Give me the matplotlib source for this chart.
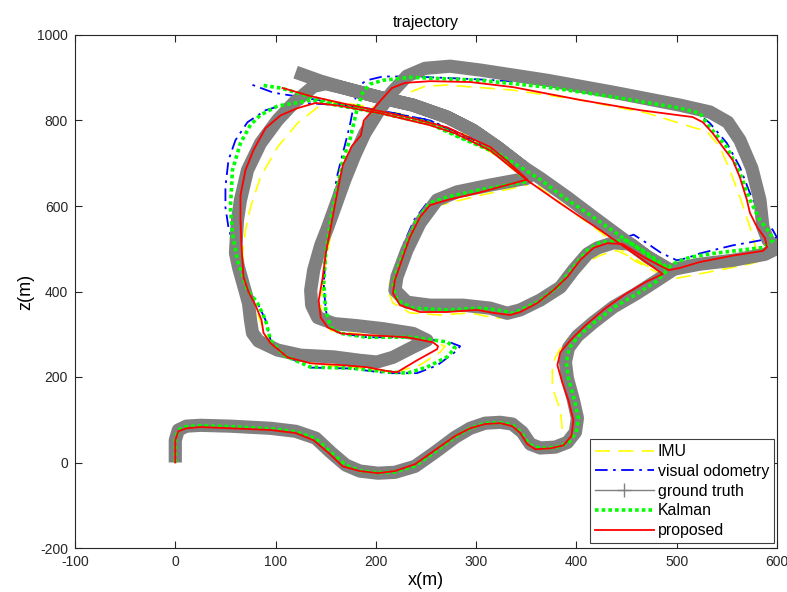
import numpy as np
import matplotlib
matplotlib.use("Agg")
import matplotlib.pyplot as plt
from matplotlib.lines import Line2D

plt.rcParams['font.family'] = ['Liberation Sans', 'DejaVu Sans']
plt.rcParams['axes.unicode_minus'] = False

# ---- trajectories (x, z) in metres ----
ground_truth = np.array([
    (0, 0), (0, 52), (3, 76), (11, 85), (25, 87), (55, 85), (95, 80), (120, 73), (140, 57),
    (155, 24), (170, -6), (184, -20), (202, -25), (219, -23), (239, -9), (259, 24), (279, 59),
    (294, 80), (309, 92), (324, 94), (336, 90), (346, 71), (354, 43), (364, 34), (379, 36),
    (391, 47), (399, 71), (401, 104), (397, 146), (391, 197), (389, 235), (392, 268), (401, 296),
    (417, 328), (437, 364), (459, 394), (479, 424), (494, 447),
    (471, 481), (444, 527), (417, 574), (391, 620), (364, 665), (347, 691), (321, 738),
    (297, 777), (271, 808), (237, 836), (204, 854), (170, 875), (150, 886),
    (138, 880), (118, 841), (102, 801), (85, 747), (72, 684), (65, 614), (62, 567), (60, 490),
    (63, 457), (68, 415), (73, 373), (75, 333), (77, 303), (83, 284), (102, 263), (125, 251),
    (158, 247), (184, 239), (201, 235), (217, 246), (237, 270), (251, 286), (237, 302),
    (207, 313), (181, 320), (158, 325), (142, 339), (136, 368), (135, 403), (138, 450),
    (145, 508), (152, 550), (160, 602), (169, 661), (179, 719), (189, 770), (202, 819),
    (216, 866), (231, 904), (249, 922), (274, 927), (304, 918), (371, 894), (437, 866),
    (503, 836), (533, 820), (551, 796), (563, 754), (575, 688), (583, 614), (586, 550),
    (591, 520), (600, 501), (588, 487), (556, 473), (523, 464), (503, 455), (494, 450),
    (471, 481), (454, 511), (437, 514), (421, 502), (411, 488), (397, 450), (384, 410),
    (364, 380), (344, 357), (331, 349), (314, 361), (287, 368), (254, 368), (231, 375),
    (219, 403), (221, 434), (231, 497), (244, 560), (261, 614), (281, 633), (314, 649),
    (351, 665), (347, 691), (321, 738), (297, 777), (271, 808), (237, 836), (204, 854),
    (170, 875), (145, 892), (120, 913),
])

imu = np.array([
    (0, 0), (0, 52), (3, 77), (11, 85), (25, 86), (55, 84), (95, 79), (120, 72), (140, 57),
    (158, 25), (172, -4), (186, -18), (204, -23), (221, -20), (241, -5), (261, 28), (281, 62),
    (296, 80), (311, 91), (326, 93), (340, 88), (348, 66), (352, 45), (362, 36), (378, 38),
    (386, 55), (386, 75), (384, 122), (376, 175), (376, 222), (379, 246), (387, 279),
    (404, 317), (425, 355), (447, 388), (468, 418), (486, 438),
    (457, 473), (424, 539), (367, 637), (337, 699), (287, 770), (237, 807), (204, 829),
    (170, 840), (155, 845), (142, 831), (122, 794), (102, 738), (85, 668), (75, 597),
    (70, 543), (67, 489), (70, 438), (75, 391), (81, 356), (88, 309), (97, 274), (115, 244),
    (145, 228), (184, 221), (219, 211), (244, 228), (264, 258), (269, 272), (254, 286),
    (224, 295), (184, 300), (155, 309), (147, 333), (145, 379), (148, 433), (152, 497),
    (158, 567), (164, 637), (172, 695), (182, 747), (194, 789), (209, 824), (221, 843),
    (234, 866), (249, 880), (271, 883), (337, 871), (404, 848), (471, 817), (516, 784),
    (530, 775), (543, 738), (553, 684), (563, 621), (573, 551), (580, 492), (583, 473),
    (576, 466), (540, 449), (500, 431), (491, 427), (474, 455), (457, 478), (440, 496),
    (424, 485), (411, 469), (394, 427), (379, 392), (361, 364), (339, 340), (319, 338),
    (294, 350), (264, 345), (234, 350), (217, 373), (212, 403), (216, 438), (224, 485),
    (234, 537), (247, 583), (264, 602), (304, 625), (351, 649), (344, 670), (324, 712),
    (287, 766), (237, 805), (204, 824), (170, 838), (150, 847),
])

visual_odometry = np.array([
    (0, 0), (0, 52), (3, 77), (11, 85), (25, 86), (55, 84), (95, 79), (120, 72), (140, 56),
    (155, 23), (170, -7), (184, -20), (202, -24), (219, -22), (239, -8), (259, 25), (279, 60),
    (294, 81), (309, 92), (324, 93), (336, 88), (345, 70), (353, 42), (364, 33), (379, 35),
    (392, 46), (400, 71), (402, 104), (398, 146), (392, 197), (390, 235), (393, 268),
    (402, 296), (418, 328), (438, 364), (460, 394), (480, 424), (492, 445),
    (469, 492), (444, 533), (424, 565), (399, 610), (374, 652), (344, 700), (314, 740),
    (284, 770), (254, 800), (204, 823), (165, 836), (135, 840), (110, 838), (90, 824),
    (72, 796), (60, 754), (53, 707), (50, 644), (50, 597), (53, 550), (58, 508), (62, 468),
    (72, 403), (82, 373), (90, 333), (95, 286), (108, 251), (135, 222), (174, 220),
    (211, 209), (241, 209), (261, 227), (281, 262), (284, 272), (274, 281), (237, 293),
    (191, 293), (165, 302), (155, 316), (150, 356), (148, 419), (150, 489), (155, 567),
    (161, 667), (167, 723), (174, 788), (179, 847), (184, 883), (191, 894), (207, 903),
    (237, 903), (304, 896), (371, 887), (437, 864), (516, 825), (533, 794), (550, 747),
    (563, 691), (573, 630), (583, 583), (596, 543), (600, 526), (593, 524), (573, 515),
    (556, 508), (523, 489), (510, 478), (500, 473), (484, 491), (469, 515), (457, 533),
    (444, 522), (424, 515), (411, 497), (397, 457), (381, 410), (361, 375), (337, 349),
    (321, 357), (304, 361), (271, 357), (237, 361), (221, 380), (217, 410), (219, 450),
    (228, 513), (238, 567), (252, 610), (271, 623), (304, 640), (351, 660), (334, 700),
    (314, 735), (284, 766), (254, 800), (204, 824), (165, 838), (130, 853), (98, 865),
    (75, 885),
])

kalman = np.array([
    (0, 0), (0, 52), (3, 77), (11, 84), (25, 86), (55, 84), (95, 79), (120, 72), (140, 56),
    (155, 24), (170, -6), (184, -19), (202, -24), (219, -22), (239, -8), (259, 25), (279, 60),
    (294, 80), (309, 92), (324, 93), (336, 88), (345, 70), (353, 42), (364, 33), (379, 35),
    (392, 46), (400, 71), (402, 104), (398, 146), (392, 197), (390, 235), (393, 268),
    (402, 296), (418, 328), (438, 364), (460, 394), (480, 424), (491, 450),
    (464, 497), (424, 562), (384, 626), (364, 662), (324, 720), (284, 760), (254, 792),
    (204, 818), (165, 834), (135, 848), (125, 843), (102, 834), (85, 813), (75, 790),
    (65, 747), (57, 684), (55, 597), (57, 536), (62, 473), (72, 403), (82, 373), (90, 333),
    (95, 286), (108, 251), (135, 223), (174, 221), (211, 212), (231, 209), (251, 223),
    (271, 247), (279, 268), (271, 282), (237, 293), (191, 293), (165, 302), (155, 316),
    (150, 356), (148, 419), (150, 489), (155, 567), (163, 660), (167, 707), (174, 754),
    (181, 824), (187, 866), (194, 885), (207, 894), (234, 901), (304, 894), (371, 878),
    (437, 855), (503, 829), (523, 817), (533, 784), (550, 738), (563, 677), (573, 614),
    (583, 567), (593, 537), (596, 520), (586, 503), (536, 489), (513, 480), (500, 469),
    (491, 455), (469, 492), (449, 520), (424, 515), (411, 497), (397, 457), (381, 410),
    (361, 375), (337, 349), (321, 357), (304, 361), (271, 357), (237, 361), (221, 380),
    (217, 410), (221, 450), (231, 513), (241, 567), (254, 607), (271, 621), (304, 638),
    (351, 657), (334, 697), (314, 732), (284, 762), (254, 795), (204, 820), (165, 838),
    (135, 855), (105, 876), (85, 883),
])

proposed = np.array([
    (0, 0), (0, 52), (3, 73), (11, 80), (25, 83), (55, 80), (95, 76), (120, 69), (138, 52),
    (153, 22), (167, -9), (184, -20), (202, -25), (219, -20), (239, -4), (259, 29), (279, 62),
    (294, 80), (309, 90), (324, 92), (336, 85), (344, 69), (351, 43), (359, 31), (374, 33),
    (387, 40), (395, 62), (397, 99), (392, 146), (386, 186), (381, 228), (384, 258),
    (394, 286), (409, 321), (429, 361), (449, 394), (469, 422), (486, 441),
    (464, 478), (424, 543), (384, 606), (351, 660), (314, 730), (279, 770), (254, 789),
    (204, 817), (165, 834), (140, 841), (122, 829), (105, 812), (90, 782), (78, 731),
    (70, 684), (65, 625), (65, 567), (66, 508), (68, 434), (73, 399), (80, 368), (86, 333),
    (88, 303), (95, 279), (112, 246), (135, 232), (165, 228), (191, 223), (211, 214),
    (221, 211), (241, 239), (261, 265), (262, 272), (257, 281), (231, 293), (191, 298),
    (165, 302), (152, 316), (145, 339), (143, 379), (147, 433), (150, 489), (155, 550),
    (162, 637), (167, 695), (176, 740), (185, 765), (188, 800), (196, 822), (206, 850),
    (216, 876), (229, 888), (254, 892), (294, 890), (337, 878), (404, 848), (464, 824),
    (516, 808), (526, 796), (536, 770), (546, 738), (556, 707), (563, 667), (570, 614),
    (573, 584), (580, 551), (588, 525), (590, 504), (586, 495), (556, 484), (523, 469),
    (503, 455), (492, 450), (469, 478), (446, 511), (431, 513), (417, 502), (404, 474),
    (391, 434), (377, 403), (361, 373), (344, 352), (334, 345), (317, 350), (301, 357),
    (271, 352), (244, 352), (224, 368), (217, 396), (219, 427), (227, 481), (234, 527),
    (244, 574), (254, 602), (271, 614), (304, 632), (351, 662), (331, 705), (314, 738),
    (271, 784), (237, 805), (204, 822), (167, 840), (135, 857), (107, 876),
])

x_ticks = [-100, 0, 100, 200, 300, 400, 500, 600]
z_ticks = [-200, 0, 200, 400, 600, 800, 1000]

# ---- figure ----
fig = plt.figure(figsize=(7.87, 5.92), dpi=100)
ax = fig.add_axes([75 / 787, 44 / 592, 702 / 787, 513 / 592])

imu_style = dict(color='#ffff00', lw=1.2, dashes=(9, 5))
vo_style = dict(color='#0000ff', lw=1.3, dashes=(7, 3, 1.5, 3))
kalman_style = dict(color='#00ff00', lw=2.6, dashes=(1, 0.85), dash_capstyle='butt')
proposed_style = dict(color='#ff0000', lw=1.3)

ax.plot(imu[:, 0], imu[:, 1], zorder=2, **imu_style)
ax.plot(visual_odometry[:, 0], visual_odometry[:, 1], zorder=3, **vo_style)
ax.plot(ground_truth[:, 0], ground_truth[:, 1], color='#808080', lw=9.5,
        solid_joinstyle='round', solid_capstyle='butt', zorder=4)
ax.plot(kalman[:, 0], kalman[:, 1], zorder=5, **kalman_style)
ax.plot(proposed[:, 0], proposed[:, 1], zorder=6, **proposed_style)

ax.set_xlim(-100, 600)
ax.set_ylim(-200, 1000)
ax.set_xticks(x_ticks)
ax.set_yticks(z_ticks)
ax.tick_params(direction='in', top=True, right=True, length=5, width=0.8,
               labelsize=10, pad=5, colors='#262626')
for s in ax.spines.values():
    s.set_linewidth(0.8)
    s.set_color('#262626')

ax.set_title('trajectory', fontsize=11.5, pad=6)
ax.set_xlabel('x(m)', fontsize=13, labelpad=2)
ax.set_ylabel('z(m)', fontsize=13, labelpad=2)

# legend entries
handles = [
    Line2D([0, 1], [0, 0], **imu_style),
    Line2D([0, 1], [0, 0], **vo_style),
    Line2D([0, 0.5, 1], [0, 0, 0], color='#808080', lw=1.0, marker='+',
           markersize=10, markevery=[1], markeredgewidth=1.0),
    Line2D([0, 1], [0, 0], **kalman_style),
    Line2D([0, 1], [0, 0], **proposed_style),
]
labels = ['IMU', 'visual odometry', 'ground truth', 'Kalman', 'proposed']
leg = ax.legend(handles, labels, loc='lower right', bbox_to_anchor=(0.9957, 0.0098),
                bbox_transform=ax.transAxes, borderaxespad=0, fontsize=11.4,
                handlelength=3.75, handletextpad=0.25, labelspacing=0.3,
                borderpad=0.3, fancybox=False, framealpha=1, edgecolor='#404040')
leg.get_frame().set_linewidth(0.8)

fig.savefig('out.png', dpi=100)
